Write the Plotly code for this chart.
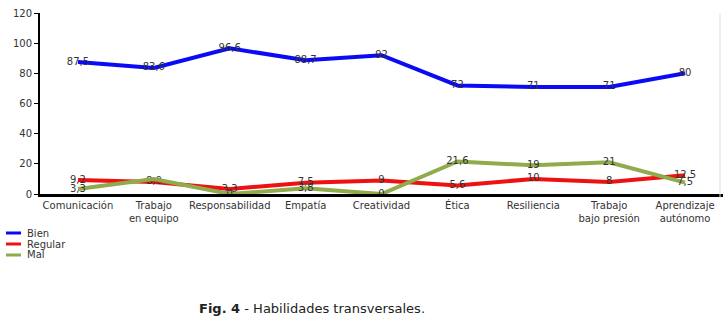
import plotly.graph_objects as go

categories = ["Comunicación", "Trabajo<br>en equipo", "Responsabilidad", "Empatía",
              "Creatividad", "Ética", "Resiliencia", "Trabajo<br>bajo presión",
              "Aprendizaje<br>autónomo"]
bien = [87.5, 83.6, 96.6, 88.7, 92, 72, 71, 71, 80]
regular = [9.2, 8.0, 3.3, 7.5, 9, 5.6, 10, 8, 12.5]
mal = [3.3, 10, 0, 3.8, 0, 21.6, 19, 21, 7.5]
bien_labels = ["87,5", "83,6", "96,6", "88,7", "92", "72", "71", "71", "80"]
regular_labels = ["9,2", "8,0", "3,3", "7,5", "9", "5,6", "10", "8", "12,5"]
mal_labels = ["3,3", "", "0", "3,8", "0", "21,6", "19", "21", "7,5"]
series_names = ["Bien", "Regular", "Mal"]
colors = ["#0a0af5", "#ee1111", "#8fab4c"]
y_ticks = [0, 20, 40, 60, 80, 100, 120]

FONT = "DejaVu Sans, Verdana, sans-serif"
PW = 683.0  # plot width in px
PH = 181.0  # plot height in px

fig = go.Figure()
for name, vals, labs, col in zip(series_names, [bien, regular, mal],
                                 [bien_labels, regular_labels, mal_labels], colors):
    fig.add_trace(go.Scatter(
        x=list(range(len(categories))), y=vals, name=name, mode="lines+text",
        text=labs, textposition="middle center",
        textfont=dict(family=FONT, size=10, color="#333333"),
        line=dict(color=col, width=4), showlegend=False, cliponaxis=False,
    ))

fig.update_layout(
    width=723, height=325,
    margin=dict(l=40, r=0, t=13, b=131),
    paper_bgcolor="white", plot_bgcolor="white",
    font=dict(family=FONT, size=10, color="#333333"),
    xaxis=dict(
        range=[-0.5, len(categories) - 0.5],
        tickmode="array", tickvals=list(range(len(categories))), ticktext=categories,
        showgrid=False, zeroline=False, showline=True, linecolor="black", linewidth=3,
        ticks="", tickfont=dict(family=FONT, size=10, color="#333333"),
    ),
    yaxis=dict(
        range=[0, 120], tickvals=y_ticks, showgrid=False, zeroline=False,
        showline=True, linecolor="black", linewidth=2,
        ticks="outside", ticklen=4, tickwidth=1, tickcolor="black",
        tickfont=dict(family=FONT, size=10, color="#333333"),
    ),
)

# manual compact legend
for i, (name, col) in enumerate(zip(series_names, colors)):
    ypx = 233 + 11 * i
    fig.add_shape(type="line", xref="paper", yref="paper",
                  x0=(6 - 40) / PW, x1=(21 - 40) / PW,
                  y0=(194 - ypx) / PH, y1=(194 - ypx) / PH,
                  line=dict(color=col, width=3))
    fig.add_annotation(xref="paper", yref="paper", x=(25 - 40) / PW, y=(194 - ypx) / PH,
                       text=name, showarrow=False, xanchor="left", yanchor="middle",
                       font=dict(family=FONT, size=10, color="#333333"))

# faint right border
fig.add_shape(type="line", xref="paper", yref="paper",
              x0=(720 - 40) / PW, x1=(720 - 40) / PW, y0=1.0, y1=-0.02,
              line=dict(color="#dddddd", width=1))

fig.add_annotation(xref="paper", yref="paper", x=(197 - 40) / PW, y=(194 - 308) / PH,
                   text="<b>Fig. 4</b> - Habilidades transversales.", showarrow=False,
                   xanchor="left", yanchor="middle",
                   font=dict(family=FONT, size=13, color="#222222"))

fig.write_html("out.html")
